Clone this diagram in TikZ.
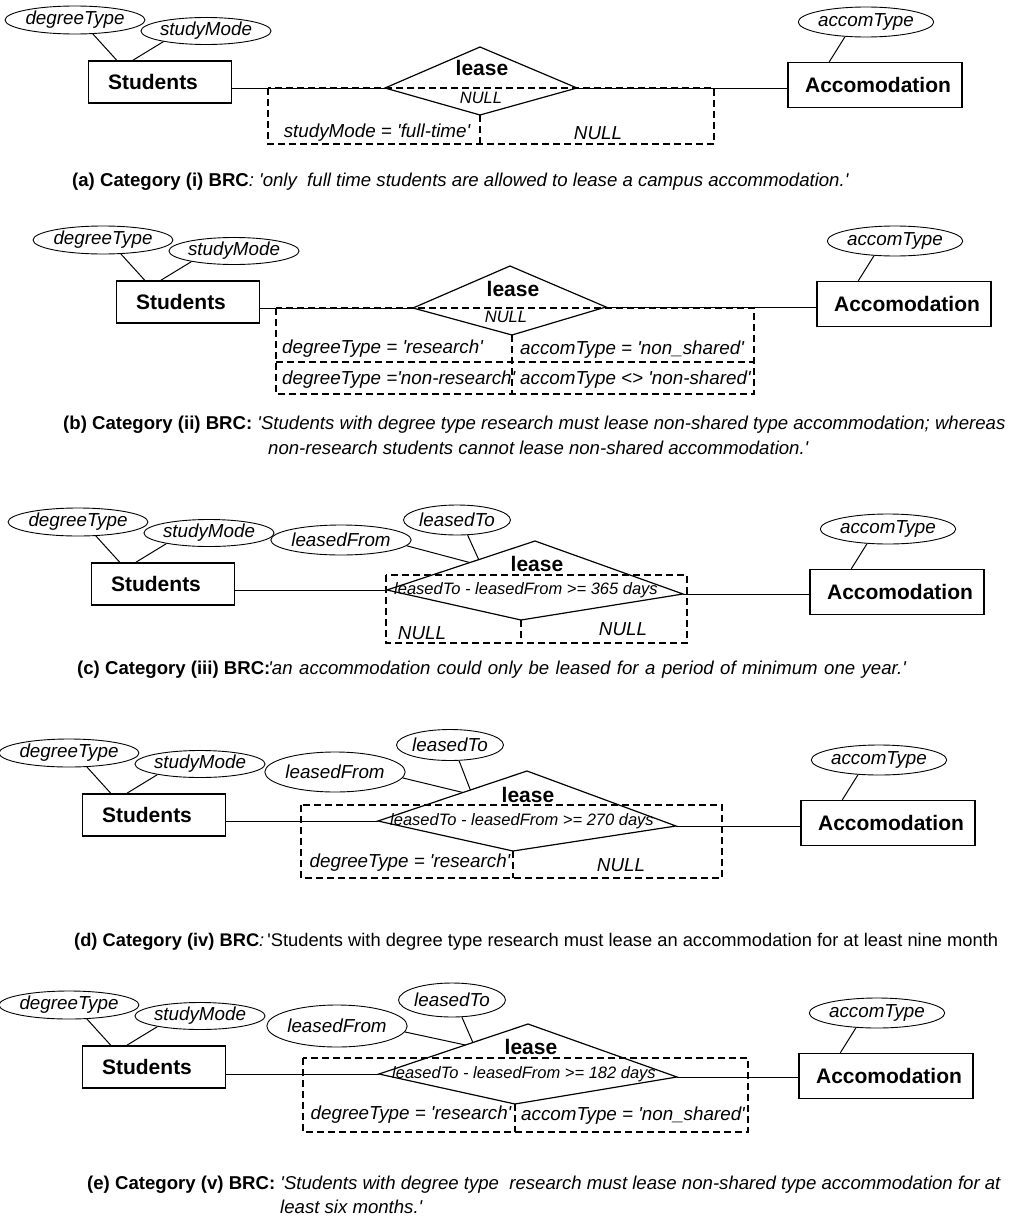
\documentclass[tikz,border=0pt]{standalone}
\usepackage{fontspec}
\setmainfont{Liberation Sans}
\usetikzlibrary{shapes.geometric,calc}
\newcommand{\sq}{\textquotesingle}
\begin{document}
\begin{tikzpicture}[x=1pt,y=-1pt,
  entity/.style={draw,line width=1.4pt,inner sep=0pt,
    font=\fontsize{21}{24}\selectfont\bfseries},
  attr/.style={draw,ellipse,line width=0.9pt,inner sep=0pt,
    minimum height=28pt,font=\fontsize{18.8}{22}\selectfont\itshape},
  link/.style={line width=1pt},
  rel/.style={line width=1.2pt},
  reltext/.style={inner sep=0pt,font=\fontsize{21}{24}\selectfont\bfseries},
  dashbox/.style={line width=1.4pt,dash pattern=on 7pt off 4pt},
  cond/.style={inner sep=0pt,font=\fontsize{18.8}{22}\selectfont\itshape},
  small/.style={inner sep=0pt,font=\fontsize{16.5}{20}\selectfont\itshape},
  caption/.style={anchor=west,inner sep=0pt,font=\fontsize{18.6}{22}\selectfont}]
\useasboundingbox (0,0) rectangle (1013,1218);

\draw[dashbox] (268,88) rectangle (714,144);
\draw[dashbox] (276,308) rectangle (754,394);
\draw[dashbox] (276,362) -- (754,362);
\draw[dashbox] (386,575) rectangle (687,643);
\draw[dashbox] (301,805) rectangle (722,878);
\draw[dashbox] (303,1058) rectangle (748,1132);

\foreach \p/\x/\y in {a/160/82,b/188/302,c/163/584,d/154/815,e/154/1067} {
  \node[entity,minimum width=143pt,minimum height=42pt] (stu\p) at (\x,\y) {\hspace*{-14pt}Students};
  \node[attr,minimum width=135pt] (deg\p) at (\x-85,\y-62) {degreeType};
  \node[attr,minimum width=108pt,minimum height=27pt] (mode\p) at (\x+46,\y-51) {studyMode};
  \draw[link] (deg\p.-38) -- ([xshift=29pt]stu\p.north west);
  \draw[link] (mode\p.-166) -- ([xshift=45pt]stu\p.north west);
}
\foreach \p/\x/\y in {a/875/85,b/904/304,c/897/592,d/888/823,e/886/1076} {
  \node[entity,minimum width=174pt,minimum height=45pt] (acc\p) at (\x,\y) {Accomodation\hspace*{-6pt}};
  \node[attr,minimum width=110pt,minimum height=30pt] (type\p) at (\x-9,\y-63) {accomType};
  \draw[link] (type\p.-145) -- ([xshift=42pt]acc\p.north west);
}
\foreach \p/\l/\t/\r/\b/\h in {a/{385,88}/{480,47}/{577,88}/{480,115}/29,
    b/{413,308}/{510,266}/{606,307}/{512,335}/59,
    c/{387,590}/{535,541}/{683,594}/{521,620}/23,
    d/{378,821}/{527,771}/{676,826}/{513,851}/27,
    e/{379,1074}/{528,1024}/{677,1077}/{515,1104}/28} {
  \coordinate (L\p) at (\l);
  \coordinate (T\p) at (\t);
  \coordinate (R\p) at (\r);
  \coordinate (B\p) at (\b);
  \draw[rel] (L\p) -- (T\p) -- (R\p) -- (B\p) -- cycle;
  \draw[dashbox] (B\p) -- ++(0,\h);
  \draw[link] (L\p) -- (L\p -| stu\p.east);
  \draw[link] (R\p) -- (R\p -| acc\p.west);
}

\node[reltext] (leasea) at (482,68) {lease};
\node[small] (nulla) at (481,98) {NULL};
\node[cond] (conda1) at (377,133) {studyMode = \sq full-time\sq};
\node[cond] (conda2) at (598,133) {NULL};

\node[reltext] (leaseb) at (513,289) {lease};
\node[small] (nullb) at (506,317) {NULL};
\node[cond,anchor=west] (condb1) at (282,349) {degreeType = \sq research\sq};
\node[cond,anchor=west] (condb2) at (282,380) {degreeType =\sq non-research\sq};
\node[cond,anchor=west] (condb3) at (520,350) {accomType = \sq non\_shared\sq};
\node[cond,anchor=west] (condb4) at (520,380) {accomType <> \sq non-shared\sq};

\node[attr,minimum width=123pt,minimum height=30pt] (fromc) at (341,540) {leasedFrom};
\node[attr,minimum width=105pt,minimum height=30pt] (toc) at (457,520) {leasedTo};
\draw[link] (fromc.-5) -- ($(Lc)!0.56!(Tc)$);
\draw[link] (toc.-55) -- ($(Lc)!0.62!(Tc)$);
\node[reltext] (leasec) at (537,564) {lease};
\node[small] (condc1) at (526,590) {leasedTo - leasedFrom >= 365 days};
\node[cond] (condc2) at (422,633) {NULL};
\node[cond] (condc3) at (623,629) {NULL};

\node[attr,minimum width=124pt,minimum height=40pt] (fromd) at (335,772) {leasedFrom};
\node[attr,minimum width=106pt,minimum height=31pt] (tod) at (450,745) {leasedTo};
\draw[link] (fromd.-5) -- ($(Ld)!0.57!(Td)$);
\draw[link] (tod.-60) -- ($(Ld)!0.62!(Td)$);
\node[reltext] (leased) at (528,795) {lease};
\node[small] (condd1) at (522,821) {leasedTo - leasedFrom >= 270 days};
\node[cond] (condd2) at (410,863) {degreeType = \sq research\sq};
\node[cond] (condd3) at (621,865) {NULL};

\node[attr,minimum width=125pt,minimum height=42pt] (frome) at (337,1026) {leasedFrom};
\node[attr,minimum width=106pt,minimum height=34pt] (toe) at (452,1000) {leasedTo};
\draw[link] (frome.-5) -- ($(Le)!0.58!(Te)$);
\draw[link] (toe.-60) -- ($(Le)!0.63!(Te)$);
\node[reltext] (leasee) at (531,1047) {lease};
\node[small] (conde1) at (524,1074) {leasedTo - leasedFrom >= 182 days};
\node[cond] (conde2) at (411,1115) {degreeType = \sq research\sq};
\node[cond] (conde3) at (633,1116) {accomType = \sq non\_shared\sq};

\node[caption] (capa) at (72,182) {\textbf{(a) Category (i) BRC}\textit{: \sq only\ \ full time students are allowed to lease a campus accommodation.\sq}};
\node[caption] (capb) at (63,425) {\textbf{(b) Category (ii) BRC:} \textit{\sq Students with degree type research must lease non-shared type accommodation; whereas}};
\node[caption] (capb2) at (268,448) {\textit{non-research students cannot lease non-shared accommodation.\sq}};
\node[caption] (capc) at (77,670) {\textbf{(c) Category (iii) BRC:}\hspace{-2pt}\textit{\spaceskip=6.5pt\sq an accommodation could only be leased for a period of minimum one year.\sq}};
\node[caption,font=\fontsize{18.3}{22}\selectfont] (capd) at (74,942) {\textbf{(d) Category (iv) BRC}\textit{:}\,\sq Students with degree type research must lease an accommodation for at least nine month};
\node[caption] (cape) at (87,1185) {\textbf{(e) Category (v) BRC:} \textit{\sq Students with degree type\ \ research must lease non-shared type accommodation for at}};
\node[caption] (cape2) at (280,1207) {\textit{least six months.\sq}};
\end{tikzpicture}
\end{document}
